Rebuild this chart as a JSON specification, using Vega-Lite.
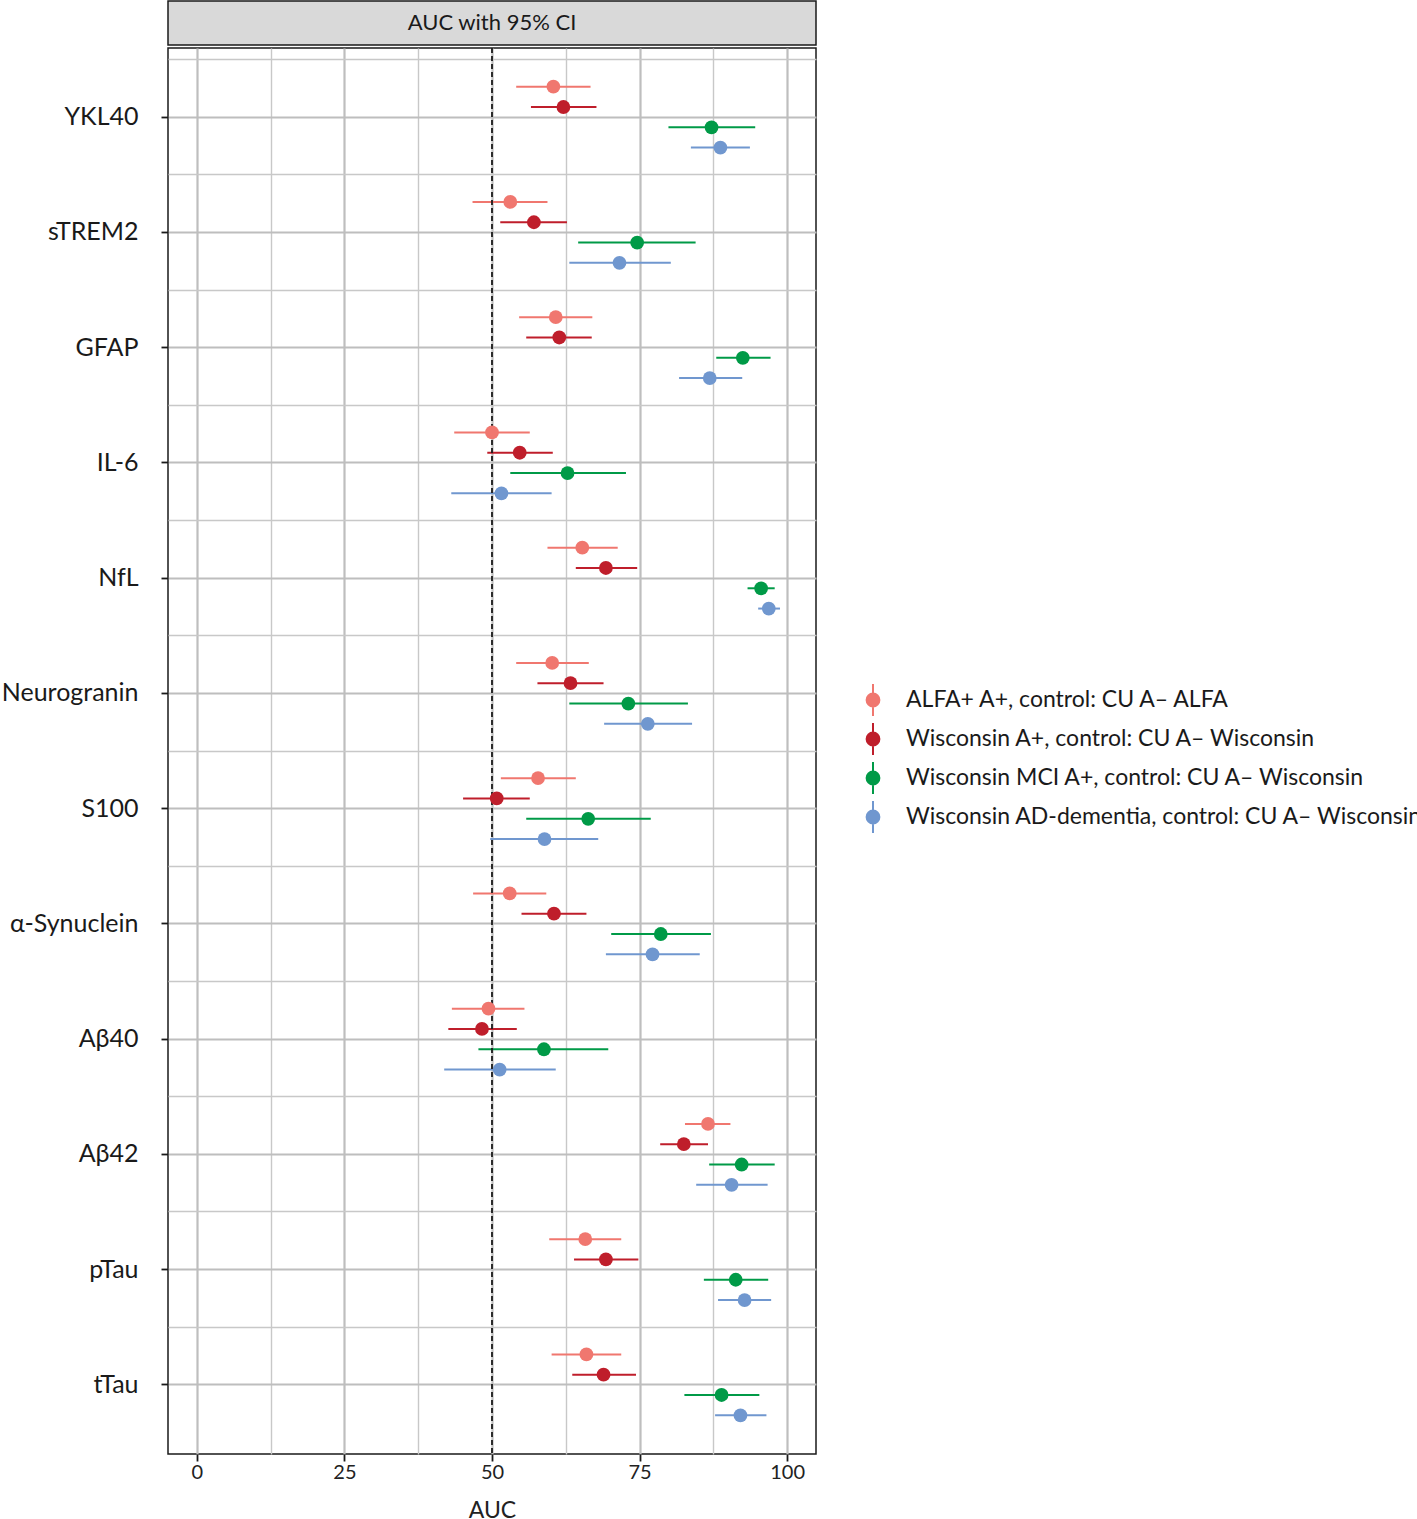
{
  "$schema": "https://vega.github.io/schema/vega-lite/v6.json",
  "padding": 0,
  "background": "white",
  "config": {
    "font": "Lato",
    "concat": {"spacing": 0},
    "axis": {"labelFont": "Lato", "titleFont": "Lato", "titleFontWeight": "normal"},
    "legend": {"labelFont": "Lato"}
  },
  "datasets": {
    "header": [{"strip": "AUC with 95% CI"}],
    "ref": [{"auc": 50}],
    "auc": [
      {"marker": "YKL40", "group": "ALFA+ A+, control: CU A– ALFA", "auc": 60.4, "lo": 54.1, "hi": 66.7},
      {"marker": "YKL40", "group": "Wisconsin A+, control: CU A– Wisconsin", "auc": 62.1, "lo": 56.6, "hi": 67.7},
      {"marker": "YKL40", "group": "Wisconsin MCI A+, control: CU A– Wisconsin", "auc": 87.2, "lo": 79.9, "hi": 94.6},
      {"marker": "YKL40", "group": "Wisconsin AD-dementia, control: CU A– Wisconsin", "auc": 88.7, "lo": 83.7, "hi": 93.7},
      {"marker": "sTREM2", "group": "ALFA+ A+, control: CU A– ALFA", "auc": 53.1, "lo": 46.7, "hi": 59.4},
      {"marker": "sTREM2", "group": "Wisconsin A+, control: CU A– Wisconsin", "auc": 57.1, "lo": 51.4, "hi": 62.7},
      {"marker": "sTREM2", "group": "Wisconsin MCI A+, control: CU A– Wisconsin", "auc": 74.6, "lo": 64.6, "hi": 84.5},
      {"marker": "sTREM2", "group": "Wisconsin AD-dementia, control: CU A– Wisconsin", "auc": 71.6, "lo": 63.1, "hi": 80.3},
      {"marker": "GFAP", "group": "ALFA+ A+, control: CU A– ALFA", "auc": 60.8, "lo": 54.6, "hi": 67.0},
      {"marker": "GFAP", "group": "Wisconsin A+, control: CU A– Wisconsin", "auc": 61.4, "lo": 55.8, "hi": 66.9},
      {"marker": "GFAP", "group": "Wisconsin MCI A+, control: CU A– Wisconsin", "auc": 92.5, "lo": 88.0, "hi": 97.2},
      {"marker": "GFAP", "group": "Wisconsin AD-dementia, control: CU A– Wisconsin", "auc": 86.9, "lo": 81.7, "hi": 92.4},
      {"marker": "IL-6", "group": "ALFA+ A+, control: CU A– ALFA", "auc": 50.0, "lo": 43.6, "hi": 56.4},
      {"marker": "IL-6", "group": "Wisconsin A+, control: CU A– Wisconsin", "auc": 54.7, "lo": 49.2, "hi": 60.3},
      {"marker": "IL-6", "group": "Wisconsin MCI A+, control: CU A– Wisconsin", "auc": 62.8, "lo": 53.1, "hi": 72.7},
      {"marker": "IL-6", "group": "Wisconsin AD-dementia, control: CU A– Wisconsin", "auc": 51.6, "lo": 43.1, "hi": 60.1},
      {"marker": "NfL", "group": "ALFA+ A+, control: CU A– ALFA", "auc": 65.3, "lo": 59.4, "hi": 71.3},
      {"marker": "NfL", "group": "Wisconsin A+, control: CU A– Wisconsin", "auc": 69.3, "lo": 64.2, "hi": 74.6},
      {"marker": "NfL", "group": "Wisconsin MCI A+, control: CU A– Wisconsin", "auc": 95.6, "lo": 93.3, "hi": 97.9},
      {"marker": "NfL", "group": "Wisconsin AD-dementia, control: CU A– Wisconsin", "auc": 96.9, "lo": 95.1, "hi": 98.8},
      {"marker": "Neurogranin", "group": "ALFA+ A+, control: CU A– ALFA", "auc": 60.2, "lo": 54.1, "hi": 66.4},
      {"marker": "Neurogranin", "group": "Wisconsin A+, control: CU A– Wisconsin", "auc": 63.3, "lo": 57.7, "hi": 68.9},
      {"marker": "Neurogranin", "group": "Wisconsin MCI A+, control: CU A– Wisconsin", "auc": 73.1, "lo": 63.1, "hi": 83.2},
      {"marker": "Neurogranin", "group": "Wisconsin AD-dementia, control: CU A– Wisconsin", "auc": 76.4, "lo": 69.0, "hi": 83.9},
      {"marker": "S100", "group": "ALFA+ A+, control: CU A– ALFA", "auc": 57.8, "lo": 51.5, "hi": 64.2},
      {"marker": "S100", "group": "Wisconsin A+, control: CU A– Wisconsin", "auc": 50.8, "lo": 45.1, "hi": 56.4},
      {"marker": "S100", "group": "Wisconsin MCI A+, control: CU A– Wisconsin", "auc": 66.3, "lo": 55.8, "hi": 76.9},
      {"marker": "S100", "group": "Wisconsin AD-dementia, control: CU A– Wisconsin", "auc": 58.9, "lo": 49.7, "hi": 68.0},
      {"marker": "α-Synuclein", "group": "ALFA+ A+, control: CU A– ALFA", "auc": 53.0, "lo": 46.8, "hi": 59.2},
      {"marker": "α-Synuclein", "group": "Wisconsin A+, control: CU A– Wisconsin", "auc": 60.5, "lo": 55.0, "hi": 66.0},
      {"marker": "α-Synuclein", "group": "Wisconsin MCI A+, control: CU A– Wisconsin", "auc": 78.6, "lo": 70.2, "hi": 87.1},
      {"marker": "α-Synuclein", "group": "Wisconsin AD-dementia, control: CU A– Wisconsin", "auc": 77.2, "lo": 69.3, "hi": 85.2},
      {"marker": "Aβ40", "group": "ALFA+ A+, control: CU A– ALFA", "auc": 49.4, "lo": 43.2, "hi": 55.5},
      {"marker": "Aβ40", "group": "Wisconsin A+, control: CU A– Wisconsin", "auc": 48.3, "lo": 42.6, "hi": 54.2},
      {"marker": "Aβ40", "group": "Wisconsin MCI A+, control: CU A– Wisconsin", "auc": 58.8, "lo": 47.7, "hi": 69.7},
      {"marker": "Aβ40", "group": "Wisconsin AD-dementia, control: CU A– Wisconsin", "auc": 51.3, "lo": 41.9, "hi": 60.8},
      {"marker": "Aβ42", "group": "ALFA+ A+, control: CU A– ALFA", "auc": 86.6, "lo": 82.7, "hi": 90.4},
      {"marker": "Aβ42", "group": "Wisconsin A+, control: CU A– Wisconsin", "auc": 82.5, "lo": 78.5, "hi": 86.6},
      {"marker": "Aβ42", "group": "Wisconsin MCI A+, control: CU A– Wisconsin", "auc": 92.3, "lo": 86.8, "hi": 97.9},
      {"marker": "Aβ42", "group": "Wisconsin AD-dementia, control: CU A– Wisconsin", "auc": 90.6, "lo": 84.6, "hi": 96.7},
      {"marker": "pTau", "group": "ALFA+ A+, control: CU A– ALFA", "auc": 65.8, "lo": 59.7, "hi": 71.9},
      {"marker": "pTau", "group": "Wisconsin A+, control: CU A– Wisconsin", "auc": 69.3, "lo": 63.9, "hi": 74.8},
      {"marker": "pTau", "group": "Wisconsin MCI A+, control: CU A– Wisconsin", "auc": 91.3, "lo": 85.9, "hi": 96.8},
      {"marker": "pTau", "group": "Wisconsin AD-dementia, control: CU A– Wisconsin", "auc": 92.8, "lo": 88.3, "hi": 97.3},
      {"marker": "tTau", "group": "ALFA+ A+, control: CU A– ALFA", "auc": 66.0, "lo": 60.1, "hi": 71.9},
      {"marker": "tTau", "group": "Wisconsin A+, control: CU A– Wisconsin", "auc": 68.9, "lo": 63.6, "hi": 74.4},
      {"marker": "tTau", "group": "Wisconsin MCI A+, control: CU A– Wisconsin", "auc": 88.9, "lo": 82.6, "hi": 95.3},
      {"marker": "tTau", "group": "Wisconsin AD-dementia, control: CU A– Wisconsin", "auc": 92.1, "lo": 87.8, "hi": 96.5}
    ]
  },
  "vconcat": [
    {
      "width": 648,
      "height": 44,
      "data": {"name": "header"},
      "view": {"fill": "#D9D9D9", "stroke": "#1a1a1a", "strokeWidth": 1.5},
      "mark": {"type": "text", "fontSize": 22, "color": "#1a1a1a", "font": "Lato"},
      "encoding": {
        "text": {"field": "strip"},
        "y": {"field": "strip", "type": "nominal", "axis": {"title": null, "labelOpacity": 0, "ticks": false, "domain": false, "minExtent": 166, "maxExtent": 166}}
      }
    },
    {
      "width": 648,
      "height": 1406,
      "view": {"stroke": "#1a1a1a", "strokeWidth": 1.5},
      "resolve": {"axis": {"x": "independent", "y": "independent"}},
      "layer": [
        {
          "data": {"name": "auc"},
          "mark": {"type": "rule", "strokeWidth": 2},
          "encoding": {
            "x": {"field": "lo", "type": "quantitative", "scale": {"domain": [-4.9, 104.9], "nice": false, "zero": false},
              "axis": {"orient": "bottom", "title": "AUC", "values": [0, 25, 50, 75, 100], "grid": true, "gridColor": "#BEBEBE", "gridWidth": 2.2, "domain": false, "tickColor": "#1a1a1a", "tickWidth": 1.8, "tickSize": 7, "labelFontSize": 20, "labelColor": "#222222", "labelPadding": 1, "titleFontSize": 23, "titleColor": "#222222", "titlePadding": 17}},
            "x2": {"field": "hi"},
            "y": {"field": "marker", "type": "nominal", "sort": null,
              "scale": {"paddingInner": 0, "paddingOuter": 0.1},
              "axis": {"orient": "left", "title": null, "grid": true, "gridColor": "#BEBEBE", "gridWidth": 2.2, "domain": false, "tickColor": "#1a1a1a", "tickWidth": 1.8, "tickSize": 7, "labelFontSize": 25, "labelColor": "#1a1a1a", "labelPadding": 23, "minExtent": 166, "maxExtent": 166}},
            "yOffset": {"field": "group", "type": "nominal", "sort": null, "scale": {"paddingInner": 0, "paddingOuter": 0.84}},
            "color": {"field": "group", "type": "nominal", "sort": null,
              "scale": {"domain": ["ALFA+ A+, control: CU A– ALFA", "Wisconsin A+, control: CU A– Wisconsin", "Wisconsin MCI A+, control: CU A– Wisconsin", "Wisconsin AD-dementia, control: CU A– Wisconsin"], "range": ["#F0776F", "#BF1E2B", "#009A47", "#7097CF"]},
              "legend": {"orient": "none", "legendX": 688, "legendY": 682, "title": null, "labelFontSize": 23, "labelColor": "#1a1a1a", "labelLimit": 0, "symbolType": "M0,-1L0,1M-0.4,0A0.4,0.4 0 1,0 0.4,0A0.4,0.4 0 1,0 -0.4,0Z", "symbolSize": 1024, "symbolStrokeWidth": 2, "labelOffset": 16, "rowPadding": -1,
                "encode": {"symbols": {"update": {"fill": {"scale": "color", "field": "value"}, "stroke": {"scale": "color", "field": "value"}, "strokeWidth": {"value": 2}, "opacity": {"value": 1}}}}}
            }
          }
        },
        {
          "data": {"name": "ref"},
          "mark": {"type": "rule", "strokeDash": [5, 3], "strokeWidth": 1.8, "color": "#1a1a1a"},
          "encoding": {
            "x": {"field": "auc", "type": "quantitative", "axis": null}
          }
        },
        {
          "data": {"name": "auc"},
          "mark": {"type": "point", "filled": true, "size": 190, "opacity": 1, "shape": "circle"},
          "encoding": {
            "x": {"field": "auc", "type": "quantitative",
              "axis": {"orient": "top", "title": null, "values": [12.5, 37.5, 62.5, 87.5], "grid": true, "gridColor": "#C8C8C8", "gridWidth": 1.4, "labels": false, "ticks": false, "domain": false}},
            "y": {"field": "marker", "type": "nominal", "sort": null,
              "axis": {"orient": "right", "title": null, "grid": true, "bandPosition": 0, "gridColor": "#C8C8C8", "gridWidth": 1.4, "labels": false, "ticks": false, "domain": false}},
            "yOffset": {"field": "group", "type": "nominal", "sort": null},
            "color": {"field": "group", "type": "nominal", "sort": null,
              "legend": {"orient": "none", "legendX": 688, "legendY": 682, "title": null, "labelFontSize": 23, "labelColor": "#1a1a1a", "labelLimit": 0, "symbolType": "M0,-1L0,1M-0.4,0A0.4,0.4 0 1,0 0.4,0A0.4,0.4 0 1,0 -0.4,0Z", "symbolSize": 1024, "symbolStrokeWidth": 2, "labelOffset": 16, "rowPadding": -1,
                "encode": {"symbols": {"update": {"fill": {"scale": "color", "field": "value"}, "stroke": {"scale": "color", "field": "value"}, "strokeWidth": {"value": 2}, "opacity": {"value": 1}}}}}
            }
          }
        }
      ]
    }
  ]
}
